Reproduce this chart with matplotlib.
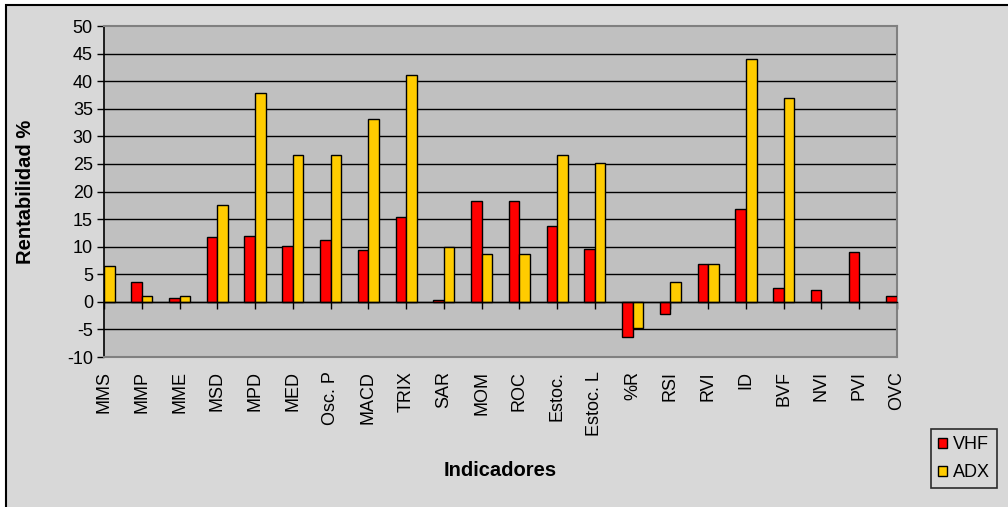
import numpy as np
import matplotlib
matplotlib.use('Agg')
import matplotlib.pyplot as plt
from matplotlib.patches import Rectangle, Patch

plt.rcParams['font.family'] = ['Liberation Sans', 'DejaVu Sans']
plt.rcParams['axes.unicode_minus'] = False

indicadores = ['MMS', 'MMP', 'MME', 'MSD', 'MPD', 'MED', 'Osc. P', 'MACD', 'TRIX',
               'SAR', 'MOM', 'ROC', 'Estoc.', 'Estoc. L', '%R', 'RSI', 'RVI', 'ID',
               'BVF', 'NVI', 'PVI', 'OVC']
# MMS/VHF and OVC/ADX fall outside the plot area (cut off); NaN = no bar
vhf = [np.nan, 3.6, 0.7, 11.7, 12.0, 10.1, 11.2, 9.4, 15.3,
       0.3, 18.2, 18.2, 13.8, 9.5, -6.3, -2.2, 6.9, 16.8,
       2.5, 2.1, 9.1, 1.1]
adx = [6.5, 1.0, 1.0, 17.5, 37.9, 26.6, 26.6, 33.2, 41.2,
       9.9, 8.7, 8.7, 26.6, 25.1, -4.8, 3.6, 6.9, 44.1,
       36.9, np.nan, np.nan, np.nan]

bg = '#d8d8d8'
plot_bg = '#c0c0c0'
red = '#ff0000'
yellow = '#ffcc00'

fig = plt.figure(figsize=(10.08, 5.07), dpi=100, facecolor='white')
# chart area with black border on top/left (cut off at right/bottom)
fig.patches.append(Rectangle((6 / 1008, -0.1), 1.2, 1 - 5 / 507 + 0.1,
                             transform=fig.transFigure, facecolor=bg,
                             edgecolor='black', linewidth=1.5, zorder=-10))

ax = fig.add_axes([104 / 1008, 1 - 357 / 507, 793 / 1008, 331 / 507])
ax.set_facecolor(plot_bg)

x = np.arange(len(indicadores))
w = 0.28
ax.bar(x - w / 2, vhf, w, color=red, edgecolor='black', linewidth=1, zorder=3)
ax.bar(x + w / 2, adx, w, color=yellow, edgecolor='black', linewidth=1, zorder=3)

ax.set_xlim(0, len(indicadores) - 1)
ax.set_ylim(-10, 50)
ax.set_yticks(np.arange(-10, 51, 5))
for v in np.arange(-5, 50, 5):
    ax.axhline(v, color='black', linewidth=1, zorder=1)

for s in ['top', 'right']:
    ax.spines[s].set_color('#808080')
    ax.spines[s].set_linewidth(1.5)
ax.spines['left'].set_color('black')
ax.spines['left'].set_linewidth(1.2)
ax.spines['bottom'].set_position(('data', 0))
ax.spines['bottom'].set_color('black')
ax.spines['bottom'].set_linewidth(1)
ax.spines['bottom'].set_zorder(4)

ax.tick_params(axis='y', direction='out', length=5, width=1, labelsize=13, pad=3)
ax.set_xticks(x)
ax.tick_params(axis='x', direction='out', length=5, width=1, labelbottom=False)

# gray frame along the bottom edge of the plot area
ax.plot([0, 1], [0, 0], transform=ax.transAxes, color='#808080', linewidth=1.5,
        clip_on=False, zorder=5)

sec = ax.secondary_xaxis(0)
sec.set_xticks(x)
sec.set_xticklabels(indicadores, rotation=90, fontsize=13)
sec.tick_params(length=0, pad=10)
sec.spines['bottom'].set_visible(False)

ax.set_ylabel('Rentabilidad %', fontsize=14.5, fontweight='bold')
ax.yaxis.set_label_coords(-0.087, 0.5)
fig.text(500 / 1008, 1 - 470 / 507, 'Indicadores', fontsize=14.5, fontweight='bold',
         ha='center', va='center')

handles = [Patch(facecolor=red, edgecolor='black'), Patch(facecolor=yellow, edgecolor='black')]
leg = fig.legend(handles, ['VHF', 'ADX'], loc='upper left',
                 bbox_to_anchor=(931 / 1008, 1 - 429 / 507), fontsize=13,
                 frameon=True, fancybox=False, handlelength=0.5, handleheight=0.5,
                 handletextpad=0.3, borderpad=0.4, labelspacing=0.6, borderaxespad=0)
leg.get_frame().set_edgecolor('black')
leg.get_frame().set_facecolor(bg)
leg.get_frame().set_linewidth(1.2)

fig.savefig('out.png', dpi=100, facecolor='white')
